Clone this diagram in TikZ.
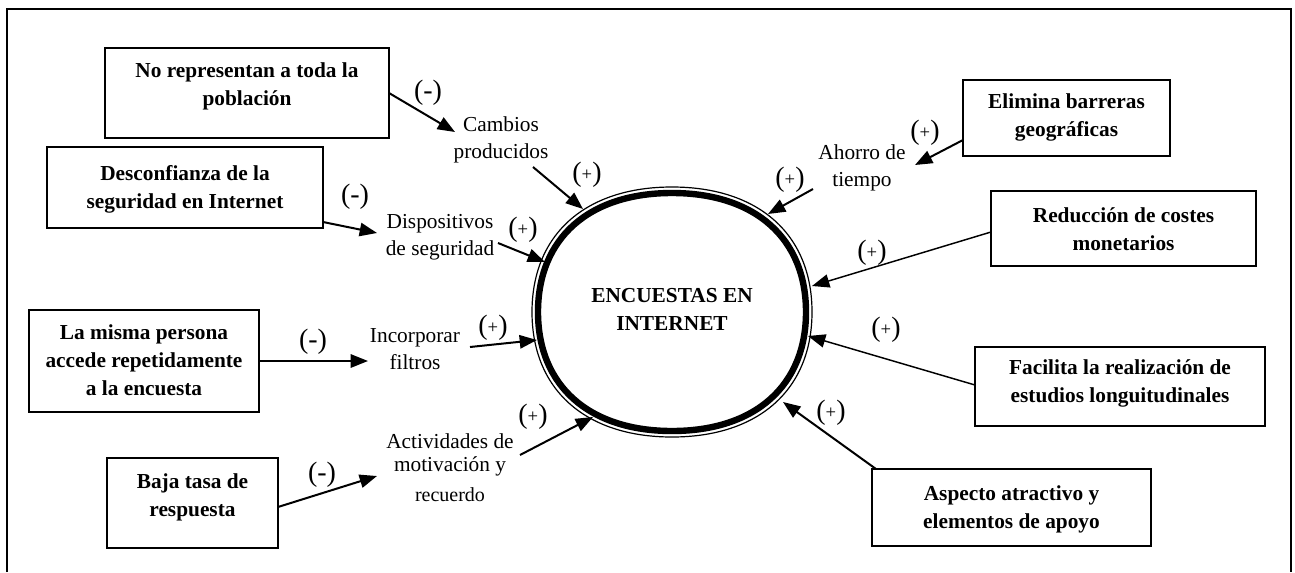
\documentclass[tikz,border=0pt]{standalone}
\usepackage{fontspec}
\setmainfont{Liberation Serif}
\usetikzlibrary{arrows.meta}
\newcommand{\pmas}{(\raisebox{0.1ex}{\fontsize{14}{14}\selectfont +})}
\newcommand{\pmenos}{(-)}
\begin{document}
\begin{tikzpicture}[x=0.75pt,y=-0.75pt,
 box/.style={draw, line width=1.2pt, inner sep=0pt, outer sep=0pt},
 btxt/.style={font=\fontsize{16}{21}\selectfont\bfseries, align=center, inner sep=0pt},
 mtxt/.style={font=\fontsize{16}{20.5}\selectfont, align=center, inner sep=0pt},
 sgn/.style={font=\fontsize{21}{21}\selectfont, inner sep=0pt},
 arr/.style={line width=1.5pt, -{Triangle[length=13pt,width=10pt]}},
 arrthin/.style={line width=1.1pt, -{Triangle[length=13pt,width=10pt]}},
]
\useasboundingbox (0,0) rectangle (1295,572);
\draw[line width=1.5pt] (7,572) -- (7,9) -- (1291,9) -- (1291,572);

% central shape
\draw[line width=4.8pt] (806,312) .. controls (806,238.2) and (755.1,193) .. (672,193)
  .. controls (588.9,193) and (538,238.2) .. (538,312)
  .. controls (538,385.8) and (588.9,431) .. (672,431)
  .. controls (755.1,431) and (806,385.8) .. (806,312) -- cycle;
\draw[line width=0.9pt] (812,312) .. controls (812,234.5) and (758.8,187) .. (672,187)
  .. controls (585.2,187) and (532,234.5) .. (532,312)
  .. controls (532,389.5) and (585.2,437) .. (672,437)
  .. controls (758.8,437) and (812,389.5) .. (812,312) -- cycle;
\node[btxt] (ell) at (672,309) {ENCUESTAS EN\\INTERNET};

% boxes
\node[box, minimum width=213pt, minimum height=67.5pt] (b1) at (247,93) {};
\node[btxt] at (247,86) {No representan a toda la\\población};
\node[box, minimum width=207pt, minimum height=60.75pt] (b2) at (185,187.5) {};
\node[btxt] at (185,189.5) {Desconfianza de la\\seguridad en Internet};
\node[box, minimum width=172.5pt, minimum height=76.5pt] (b3) at (144,361) {};
\node[btxt] at (144,360) {La misma persona\\accede repetidamente\\a la encuesta};
\node[box, minimum width=128.25pt, minimum height=67.5pt] (b4) at (192.5,503) {};
\node[btxt] at (192.5,497.5) {Baja tasa de\\respuesta};
\node[box, minimum width=155.25pt, minimum height=57pt] (b5) at (1066.5,118) {};
\node[btxt] at (1066.5,117.5) {Elimina barreras\\geográficas};
\node[box, minimum width=198.75pt, minimum height=56.25pt] (b6) at (1123.5,228.5) {};
\node[btxt] at (1123.5,229) {Reducción de costes\\monetarios};
\node[box, minimum width=217.5pt, minimum height=59.25pt] (b7) at (1120,386.5) {};
\node[btxt] at (1120,383.5) {Facilita la realización de\\estudios longuitudinales};
\node[box, minimum width=209.25pt, minimum height=57.75pt] (b8) at (1011.5,507.5) {};
\node[btxt] at (1011.5,509) {Aspecto atractivo y\\elementos de apoyo};

% intermediate labels
\node[mtxt] (m1) at (501,140) {Cambios\\producidos};
\node[mtxt] (m2) at (440,237) {Dispositivos\\de seguridad};
\node[mtxt] (m3) at (415,349) {Incorporar\\filtros};
\node[mtxt, font=\fontsize{16}{17.5}\selectfont] (m4) at (450,468) {Actividades de\\motivación y\\[5pt]{\fontsize{15}{15}\selectfont recuerdo}};
\node[mtxt] (m5) at (862,168) {Ahorro de\\tiempo};

% signs
\node[sgn] at (428,93) {\pmenos};
\node[sgn] at (587,175) {\pmas};
\node[sgn] at (355,197) {\pmenos};
\node[sgn] at (523,230) {\pmas};
\node[sgn] at (313,342) {\pmenos};
\node[sgn] at (493,328) {\pmas};
\node[sgn] at (322,475) {\pmenos};
\node[sgn] at (533,417) {\pmas};
\node[sgn] at (925,133) {\pmas};
\node[sgn] at (790,180) {\pmas};
\node[sgn] at (872,253) {\pmas};
\node[sgn] at (886,330) {\pmas};
\node[sgn] at (831,413) {\pmas};

% connector end points
\coordinate (m1in) at (455,132);
\coordinate (m1out) at (533,167);
\coordinate (e1) at (583,209);
\coordinate (b2out) at (323,222);
\coordinate (m2in) at (377,233);
\coordinate (m2out) at (498,243);
\coordinate (e2) at (545,262);
\coordinate (m3in) at (368,361);
\coordinate (m3out) at (470,347);
\coordinate (e3) at (537,340);
\coordinate (b4out) at (278,507);
\coordinate (m4in) at (377,476);
\coordinate (m4out) at (520,455);
\coordinate (e4) at (593,417);
\coordinate (b5out) at (963,140);
\coordinate (m5in) at (915,165);
\coordinate (m5out) at (813,189);
\coordinate (e5) at (768,214);
\coordinate (b6out) at (991,232);
\coordinate (e6) at (812,286);
\coordinate (b7out) at (975,385);
\coordinate (e7) at (808,336);
\coordinate (b8out) at (876,469);
\coordinate (e8) at (783,402);

% connectors
\draw[arr] (b1.east) -- (m1in);
\draw[arr] (m1out) -- (e1);
\draw[arr] (b2out) -- (m2in);
\draw[arr] (m2out) -- (e2);
\draw[arr] (b3.east) -- (m3in);
\draw[arr] (m3out) -- (e3);
\draw[arr] (b4out) -- (m4in);
\draw[arr] (m4out) -- (e4);
\draw[arr] (b5out) -- (m5in);
\draw[arr] (m5out) -- (e5);
\draw[arrthin] (b6out) -- (e6);
\draw[arrthin] (b7out) -- (e7);
\draw[arr] (b8out) -- (e8);
\end{tikzpicture}
\end{document}
